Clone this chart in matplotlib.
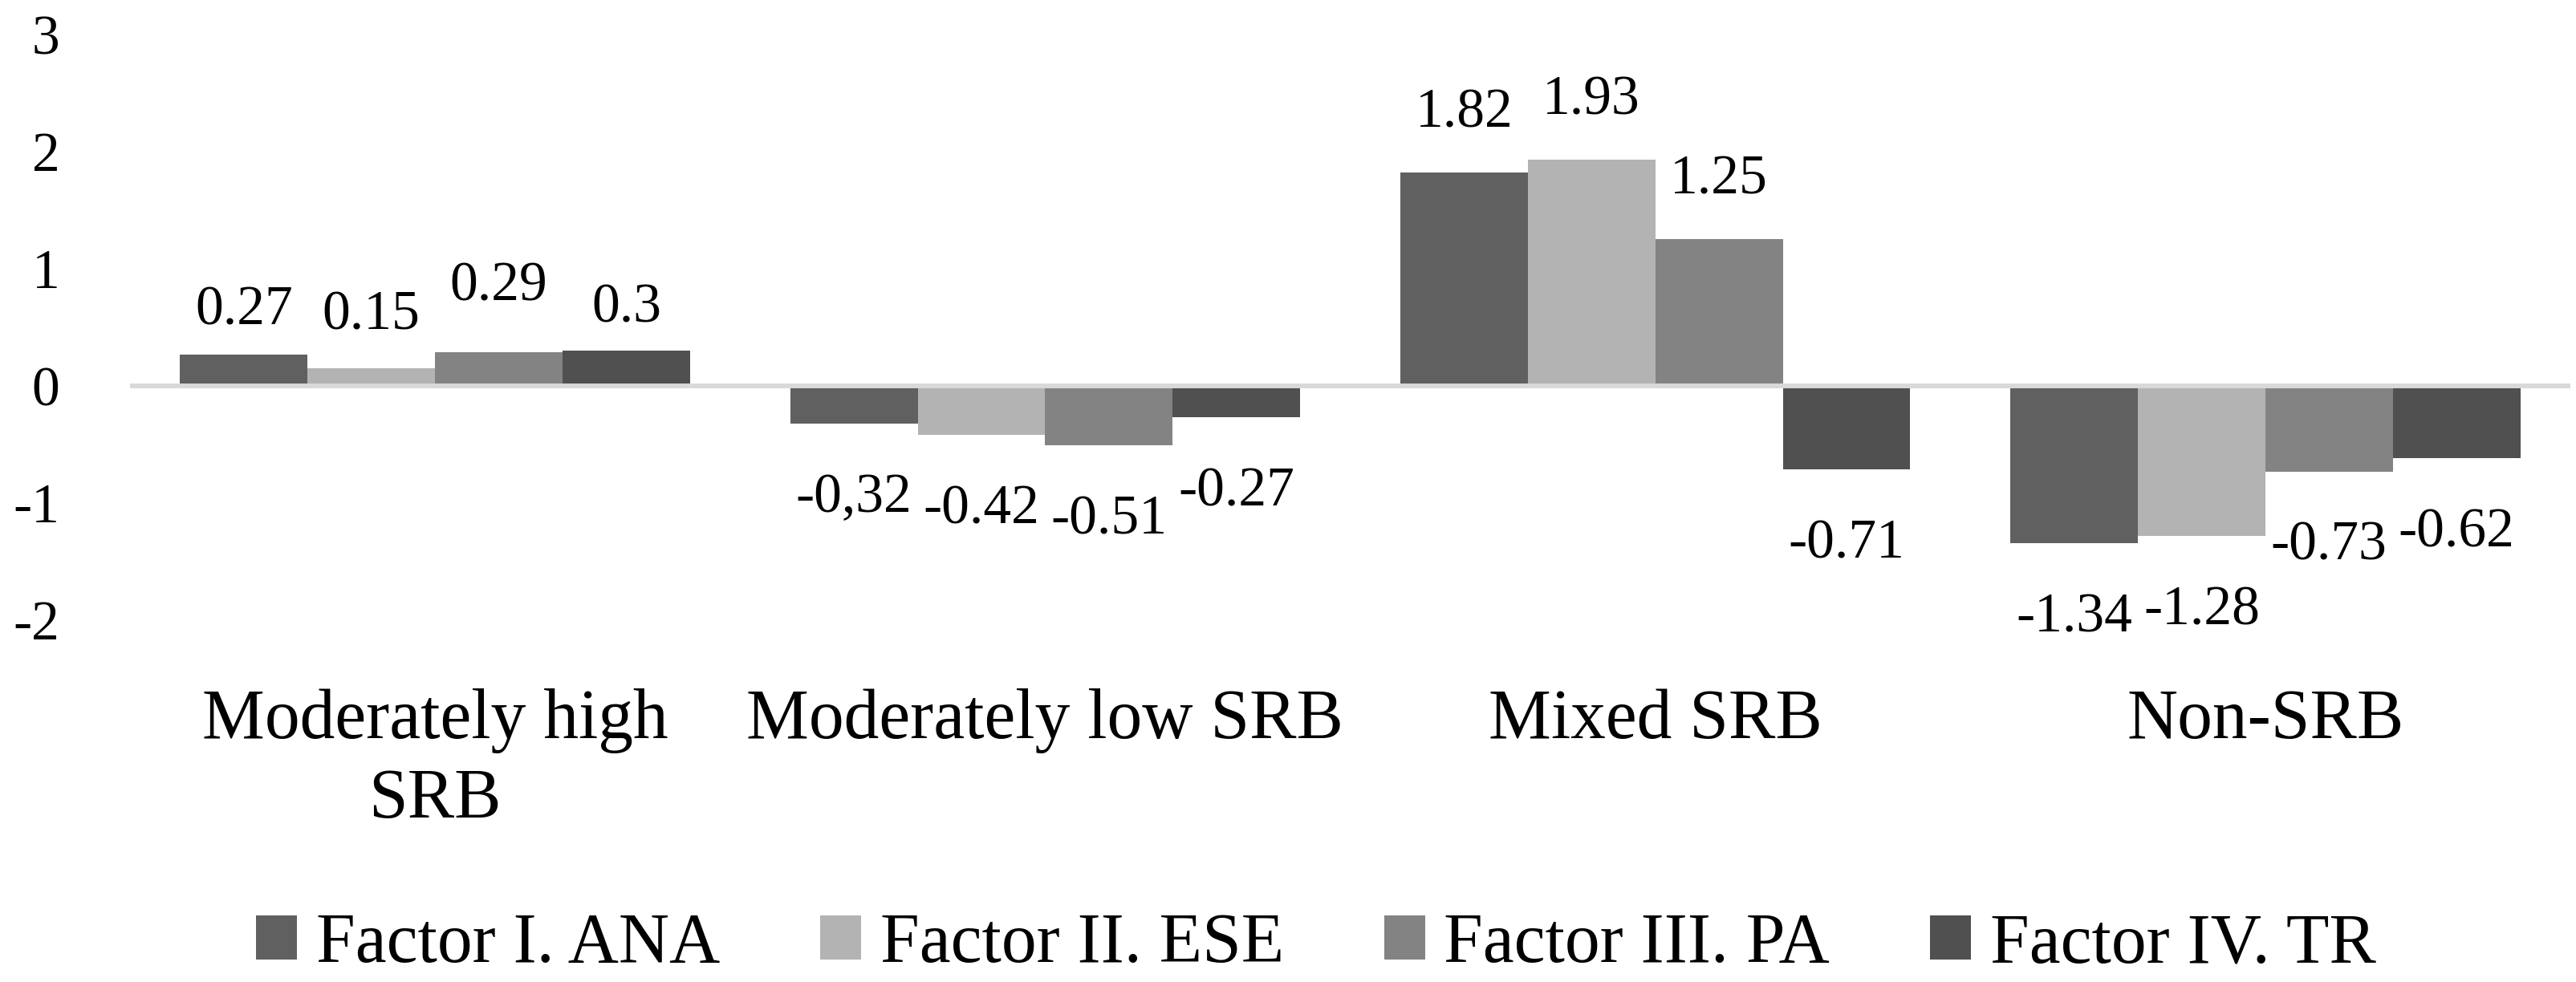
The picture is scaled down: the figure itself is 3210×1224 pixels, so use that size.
import matplotlib
matplotlib.use("Agg")
import matplotlib.pyplot as plt
import numpy as np

plt.rcParams['font.family'] = 'serif'
plt.rcParams['font.serif'] = ['Liberation Serif', 'DejaVu Serif']
plt.rcParams['axes.unicode_minus'] = False

# data
categories = ['Moderately high\nSRB', 'Moderately low SRB', 'Mixed SRB', 'Non-SRB']
series = ['Factor I. ANA', 'Factor II. ESE', 'Factor III. PA', 'Factor IV. TR']
ana = [0.27, -0.32, 1.82, -1.34]
ese = [0.15, -0.42, 1.93, -1.28]
pa = [0.29, -0.51, 1.25, -0.73]
tr = [0.30, -0.27, -0.71, -0.62]
ana_labels = ['0.27', '-0,32', '1.82', '-1.34']
ese_labels = ['0.15', '-0.42', '1.93', '-1.28']
pa_labels = ['0.29', '-0.51', '1.25', '-0.73']
tr_labels = ['0.3', '-0.27', '-0.71', '-0.62']
yticks = [-2, -1, 0, 1, 2, 3]

values = [ana, ese, pa, tr]
labels = [ana_labels, ese_labels, pa_labels, tr_labels]
colors = ['#606060', '#b3b3b3', '#838383', '#505050']

# label gap above positive bars (points), first group was nudged by hand in the original
pos_gap = [[26.6, 41, 41, 41], [35.3, 41, 41, 41], [46, 41, 41, 41], [26, 41, 41, 41]]
neg_gap = 44.6

fig = plt.figure(figsize=(32.1, 12.24), dpi=100)
ax = fig.add_axes([0.0505, 0.3685, 0.9473, 0.5964])

x = np.arange(len(categories))
width = 0.836 / 4

for i in range(len(series)):
	xs = x + (i - 1.5) * width
	ax.bar(xs, values[i], width, color=colors[i], label=series[i], zorder=2)
	for j in range(len(categories)):
		v = values[i][j]
		if v >= 0:
			ax.annotate(labels[i][j], (xs[j], v), xytext=(0, pos_gap[i][j]),
				textcoords='offset points', ha='center', va='baseline', fontsize=50)
		else:
			ax.annotate(labels[i][j], (xs[j], v), xytext=(0, -neg_gap),
				textcoords='offset points', ha='center', va='top', fontsize=50)

ax.axhline(0, color='#d9d9d9', lw=4.3, zorder=3)

ax.set_xlim(-0.5, len(categories) - 0.5)
ax.set_ylim(-2, 3)
ax.set_yticks(yticks)
ax.set_yticklabels([str(t) for t in yticks])
ax.set_xticks(x)
ax.set_xticklabels(categories, linespacing=1.3)
ax.tick_params(axis='y', length=0, pad=63, labelsize=50)
ax.tick_params(axis='x', length=0, pad=61, labelsize=63)
for s in ax.spines.values():
	s.set_visible(False)

fig.legend(loc='center', bbox_to_anchor=(1640 / 3210, 1 - 1178 / 1224), ncol=4,
	frameon=False, fontsize=63, handlelength=0.58, handleheight=0.58,
	handletextpad=0.27, columnspacing=1.43, borderpad=0)

fig.savefig('out.png', dpi=100)
plt.close(fig)
